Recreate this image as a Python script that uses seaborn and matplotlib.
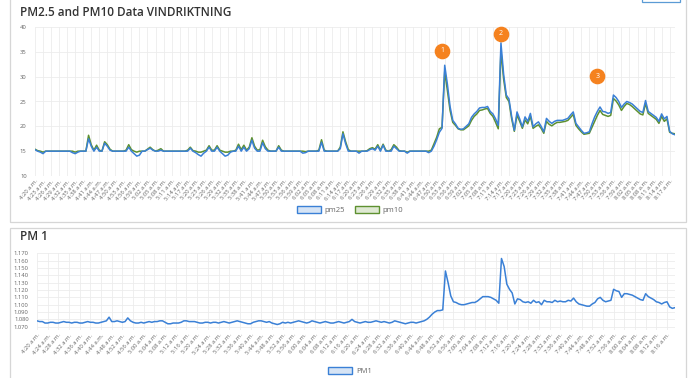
import pandas as pd
import numpy as np
import matplotlib.pyplot as plt
import seaborn as sns
from matplotlib.patches import Patch, Rectangle

# ── data (one reading per minute, 4:20 a.m. onwards) ─────────
pm25 = [
    15.3, 15.0, 14.8, 14.5, 15.0, 15.0, 15.0, 15.0, 15.0, 15.0, 15.0, 15.0, 15.0, 15.0, 14.7, 14.5, 14.8, 15.0, 15.0, 15.0,
    17.5, 16.0, 15.0, 15.8, 15.0, 15.0, 16.6, 16.0, 15.2, 15.0, 15.0, 15.0, 15.0, 15.0, 15.0, 15.8, 15.0, 14.5, 14.0, 14.2,
    15.0, 15.0, 15.3, 15.6, 15.2, 15.0, 15.0, 15.2, 15.0, 15.0, 15.0, 15.0, 15.0, 15.0, 15.0, 15.0, 15.0, 15.0, 15.6, 15.0,
    14.7, 14.3, 14.0, 14.6, 15.0, 15.8, 15.0, 15.0, 15.8, 15.0, 14.5, 14.0, 14.2, 14.8, 15.0, 15.0, 16.0, 15.0, 15.8, 15.0,
    15.5, 17.2, 15.6, 15.0, 15.0, 16.7, 15.5, 15.0, 15.0, 15.0, 15.0, 15.8, 15.0, 15.0, 15.0, 15.0, 15.0, 15.0, 15.0, 15.0,
    14.6, 14.7, 15.0, 15.0, 15.0, 15.0, 15.0, 16.8, 15.0, 15.0, 15.0, 15.0, 15.0, 15.0, 15.5, 18.5, 16.5, 15.0, 15.0, 15.0,
    15.0, 14.6, 15.0, 15.0, 15.0, 15.3, 15.5, 15.2, 16.0, 15.0, 16.2, 15.0, 15.0, 15.0, 16.0, 15.5, 15.0, 15.0, 15.0, 14.6,
    15.0, 15.0, 15.0, 15.0, 15.0, 15.0, 15.0, 14.7, 15.0, 16.0, 17.3, 18.8, 19.6, 32.3, 28.5, 24.0, 21.2, 20.5, 19.6, 19.4,
    19.5, 20.0, 20.5, 21.8, 22.5, 23.0, 23.7, 23.8, 23.8, 24.0, 23.0, 22.5, 21.5, 20.2, 36.8, 30.5, 26.3, 25.5, 22.0, 19.2,
    22.9, 21.5, 19.9, 21.9, 21.0, 22.6, 19.9, 20.5, 20.9, 20.0, 18.9, 21.6, 21.0, 20.6, 21.0, 21.2, 21.2, 21.2, 21.4, 21.6,
    22.3, 22.9, 20.6, 19.9, 19.2, 18.6, 18.7, 18.9, 20.5, 21.9, 23.0, 23.9, 23.0, 22.9, 22.6, 22.8, 26.3, 25.8, 25.0, 23.8,
    24.5, 25.0, 24.8, 24.5, 24.0, 23.5, 23.0, 22.8, 25.2, 23.0, 22.6, 22.2, 21.8, 21.0, 22.5, 21.5, 22.0, 19.0, 18.5, 18.3,
]
pm10 = [
    15.4, 15.1, 15.0, 14.8, 15.0, 15.0, 15.0, 15.0, 15.0, 15.0, 15.0, 15.0, 15.0, 15.0, 15.0, 14.8, 15.0, 15.0, 15.0, 15.0,
    18.2, 16.3, 15.2, 16.2, 15.2, 15.0, 16.9, 16.3, 15.4, 15.0, 15.0, 15.0, 15.0, 15.0, 15.2, 16.3, 15.3, 15.0, 14.8, 15.0,
    15.0, 15.0, 15.4, 15.8, 15.3, 15.0, 15.2, 15.5, 15.0, 15.0, 15.0, 15.0, 15.0, 15.0, 15.0, 15.0, 15.0, 15.2, 15.8, 15.1,
    15.0, 14.8, 14.8, 15.0, 15.2, 16.1, 15.2, 15.2, 16.1, 15.2, 15.0, 14.8, 14.8, 15.0, 15.0, 15.2, 16.4, 15.3, 16.2, 15.2,
    15.8, 17.7, 16.0, 15.2, 15.3, 17.2, 15.9, 15.2, 15.0, 15.0, 15.0, 16.1, 15.2, 15.0, 15.0, 15.0, 15.0, 15.0, 15.0, 15.0,
    15.0, 14.9, 15.0, 15.0, 15.0, 15.0, 15.2, 17.3, 15.2, 15.0, 15.0, 15.0, 15.0, 15.0, 15.8, 18.9, 16.9, 15.3, 15.0, 15.0,
    15.0, 15.0, 15.0, 15.0, 15.1, 15.5, 15.7, 15.4, 16.3, 15.2, 16.4, 15.2, 15.0, 15.3, 16.3, 15.8, 15.1, 15.0, 15.0, 14.8,
    15.0, 15.0, 15.0, 15.0, 15.0, 15.0, 15.0, 15.0, 15.2, 16.5, 17.8, 19.5, 19.8, 31.0, 27.2, 23.2, 20.8, 20.2, 19.5, 19.3,
    19.3, 19.7, 20.1, 21.2, 22.0, 22.5, 23.2, 23.3, 23.5, 23.6, 22.6, 22.0, 20.8, 19.5, 35.2, 29.5, 25.8, 25.0, 21.5, 19.0,
    22.3, 21.0, 19.6, 21.3, 20.5, 22.0, 19.6, 20.0, 20.3, 19.6, 18.6, 21.0, 20.4, 20.1, 20.5, 20.8, 20.8, 20.9, 21.0, 21.2,
    21.8, 22.4, 20.2, 19.5, 18.9, 18.4, 18.5, 18.6, 19.8, 21.0, 22.2, 23.2, 22.4, 22.2, 22.0, 22.2, 25.6, 25.1, 24.3, 23.2,
    24.0, 24.6, 24.4, 24.0, 23.5, 23.0, 22.5, 22.3, 24.6, 22.6, 22.2, 21.8, 21.4, 20.6, 22.0, 21.0, 21.5, 18.8, 18.6, 18.5,
]
pm1 = [
    1.078, 1.077, 1.077, 1.075, 1.075, 1.076, 1.076, 1.075, 1.075, 1.076, 1.077, 1.076, 1.076, 1.075, 1.076, 1.076, 1.075, 1.075, 1.076, 1.077,
    1.076, 1.076, 1.075, 1.075, 1.076, 1.077, 1.078, 1.083, 1.077, 1.077, 1.078, 1.077, 1.076, 1.077, 1.082, 1.078, 1.076, 1.075, 1.075, 1.076,
    1.075, 1.076, 1.077, 1.076, 1.077, 1.077, 1.078, 1.078, 1.076, 1.074, 1.074, 1.075, 1.075, 1.075, 1.076, 1.078, 1.078, 1.077, 1.077, 1.077,
    1.076, 1.075, 1.075, 1.076, 1.076, 1.075, 1.076, 1.076, 1.075, 1.076, 1.077, 1.076, 1.075, 1.076, 1.077, 1.078, 1.077, 1.076, 1.075, 1.074,
    1.074, 1.076, 1.077, 1.078, 1.078, 1.077, 1.076, 1.077, 1.075, 1.074, 1.073, 1.074, 1.076, 1.075, 1.076, 1.075, 1.076, 1.077, 1.078, 1.077,
    1.076, 1.075, 1.076, 1.078, 1.077, 1.076, 1.075, 1.076, 1.077, 1.076, 1.075, 1.075, 1.076, 1.077, 1.076, 1.075, 1.076, 1.077, 1.080, 1.077,
    1.076, 1.075, 1.076, 1.077, 1.076, 1.076, 1.077, 1.078, 1.077, 1.076, 1.077, 1.076, 1.075, 1.076, 1.078, 1.077, 1.076, 1.075, 1.074, 1.075,
    1.076, 1.076, 1.075, 1.076, 1.077, 1.078, 1.080, 1.083, 1.087, 1.090, 1.092, 1.092, 1.093, 1.146, 1.130, 1.112, 1.104, 1.103, 1.101, 1.100,
    1.100, 1.101, 1.102, 1.103, 1.103, 1.105, 1.108, 1.111, 1.111, 1.111, 1.110, 1.108, 1.106, 1.102, 1.163, 1.152, 1.128, 1.121, 1.116, 1.101,
    1.108, 1.107, 1.104, 1.103, 1.104, 1.102, 1.106, 1.103, 1.104, 1.100, 1.106, 1.104, 1.104, 1.103, 1.106, 1.104, 1.105, 1.104, 1.104, 1.106,
    1.105, 1.109, 1.104, 1.101, 1.100, 1.099, 1.098, 1.098, 1.101, 1.103, 1.108, 1.110, 1.106, 1.104, 1.105, 1.106, 1.121, 1.119, 1.118, 1.110,
    1.115, 1.115, 1.114, 1.113, 1.111, 1.109, 1.107, 1.106, 1.115, 1.111, 1.109, 1.107, 1.104, 1.103, 1.101, 1.103, 1.104, 1.097, 1.095, 1.096,
]
times = pd.date_range("2024-01-01 04:20", periods=len(pm25), freq="min")
labels = [f"{t.hour}:{t.minute:02d} a.m." for t in times]

# numbered markers on the top chart: (index, value, text)
markers = [(152, 35.2, "1"), (174, 38.6, "2"), (210, 30.1, "3")]

df = pd.DataFrame({"idx": np.arange(len(pm25)), "pm25": pm25, "pm10": pm10, "pm1": pm1})

# ── style ────────────────────────────────────────────────────
sns.set_style("white")
plt.rcParams["font.family"] = ["Open Sans", "DejaVu Sans"]

BLUE = "#3a80d6"
GREEN = "#5e9130"
GRID = "#ececec"
TICK = "#666666"

W, H = 696, 378
fig = plt.figure(figsize=(W / 100, H / 100), dpi=100)

def fx(px):
    return px / W

def fy(py):
    return 1 - py / H

# cards + the edge of a button peeking in at the top right
fig.patches.append(Rectangle((fx(10), fy(222)), fx(676), 222 / H + 0.02, transform=fig.transFigure,
                             fill=False, edgecolor="#d6d6d6", lw=0.9))
fig.patches.append(Rectangle((fx(10), fy(400)), fx(676), 172 / H, transform=fig.transFigure,
                             fill=False, edgecolor="#d6d6d6", lw=0.9))
fig.patches.append(Rectangle((fx(642), fy(2)), fx(38), 10 / H, transform=fig.transFigure,
                             facecolor="white", edgecolor="#5b9bd5", lw=0.9))
fig.text(fx(20), fy(12), "PM2.5 and PM10 Data VINDRIKTNING", fontsize=8.5, color="#333333",
         va="center", ha="left", fontweight="semibold")
fig.text(fx(20), fy(237), "PM 1", fontsize=8.5, color="#333333", va="center", ha="left",
         fontweight="semibold")


def style_axis(ax, step):
    ax.set_xticks(range(0, len(labels), step))
    ax.set_xticklabels(labels[::step], rotation=50, ha="right", rotation_mode="anchor",
                       fontsize=4.2, color=TICK)
    ax.tick_params(axis="y", labelsize=4.2, labelcolor=TICK, length=0, pad=6)
    ax.tick_params(axis="x", length=0, pad=2)
    ax.grid(True, color=GRID, lw=0.6)
    for s in ax.spines.values():
        s.set_visible(False)
    ax.set_xlabel("")
    ax.set_ylabel("")
    ax.set_xlim(0, len(labels) - 1)


# ── top chart ────────────────────────────────────────────────
ax1 = fig.add_axes([fx(35), fy(176), fx(640), 149 / H])
sns.lineplot(data=df, x="idx", y="pm10", ax=ax1, color=GREEN, lw=1.1)
sns.lineplot(data=df, x="idx", y="pm25", ax=ax1, color=BLUE, lw=1.1)
ax1.set_ylim(10, 40)
ax1.set_yticks([10, 15, 20, 25, 30, 35, 40])
style_axis(ax1, 3)

for xi, yv, txt in markers:
    ax1.scatter([xi], [yv], s=105, color="#f5821f", zorder=5, clip_on=False)
    ax1.text(xi, yv, txt, color="white", fontsize=5, ha="center", va="center", zorder=6)

fig.legend(handles=[Patch(facecolor="#d6e4f5", edgecolor=BLUE, lw=1, label="pm25"),
                    Patch(facecolor="#dfe9d3", edgecolor=GREEN, lw=1, label="pm10")],
           loc="center", bbox_to_anchor=(fx(350), fy(210)), ncol=2, frameon=False,
           fontsize=5.5, labelcolor=TICK, handlelength=3.2, handleheight=1.0,
           columnspacing=1.2, handletextpad=0.5)

# ── bottom chart ─────────────────────────────────────────────
ax2 = fig.add_axes([fx(37), fy(330), fx(638), 77 / H])
sns.lineplot(data=df, x="idx", y="pm1", ax=ax2, color=BLUE, lw=1.1)
ax2.set_ylim(1.0655, 1.1705)
ax2.set_yticks(np.arange(1.07, 1.1705, 0.01))
ax2.yaxis.set_major_formatter(plt.FormatStrFormatter("%.3f"))
style_axis(ax2, 4)

fig.legend(handles=[Patch(facecolor="#d6e4f5", edgecolor=BLUE, lw=1, label="PM1")],
           loc="center", bbox_to_anchor=(fx(350), fy(371)), frameon=False,
           fontsize=5.5, labelcolor=TICK, handlelength=3.2, handleheight=1.0, handletextpad=0.5)

fig.savefig("out.png", dpi=100)
